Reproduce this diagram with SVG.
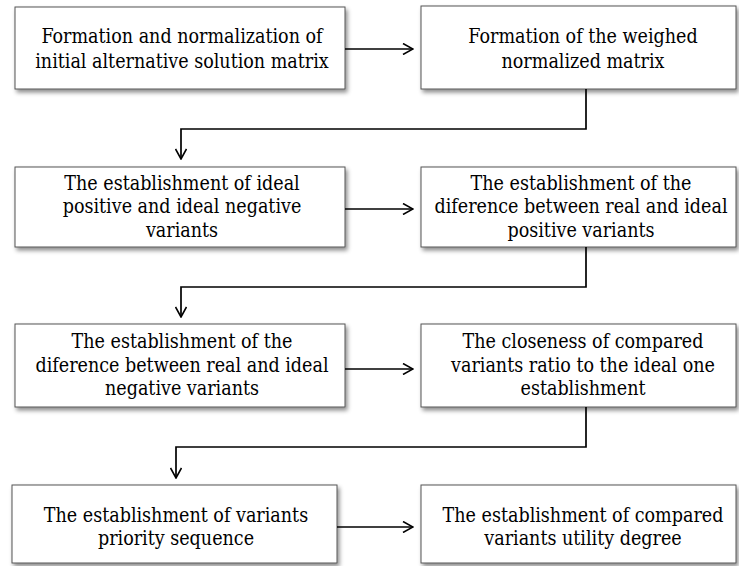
<svg xmlns="http://www.w3.org/2000/svg" width="739" height="566" viewBox="0 0 739 566">
<defs>
<filter id="sh" x="-5%" y="-10%" width="115%" height="130%">
<feDropShadow dx="2" dy="3" stdDeviation="2" flood-color="#000" flood-opacity="0.45"/>
</filter>
<marker id="arr" viewBox="0 0 12 12" refX="11" refY="6" markerWidth="12" markerHeight="12" markerUnits="userSpaceOnUse" orient="auto">
<path d="M1,0.5 L11,6 L1,11.5" fill="none" stroke="#000" stroke-width="1.6"/>
</marker>
</defs>
<style>
.box{fill:#fff;stroke:#555;stroke-width:1;filter:url(#sh)}
.t{font-family:"DejaVu Serif Condensed","DejaVu Serif","Liberation Serif",serif;font-stretch:condensed;font-size:19.5px;fill:#000;text-anchor:middle}
.c{fill:none;stroke:#000;stroke-width:1.7}
</style>
<rect width="739" height="566" fill="#fff"/>
<g id="n1"><rect class="box" x="15" y="7" width="330" height="82"/>
<text class="t" x="182" y="43">Formation and normalization of</text>
<text class="t" x="182" y="68">initial alternative solution matrix</text></g>
<g id="n2"><rect class="box" x="421" y="6" width="315" height="83"/>
<text class="t" x="583" y="43">Formation of the weighed</text>
<text class="t" x="583" y="68">normalized matrix</text></g>
<g id="n3"><rect class="box" x="15" y="167" width="330" height="80"/>
<text class="t" x="182" y="190">The establishment of ideal</text>
<text class="t" x="182" y="213">positive and ideal negative</text>
<text class="t" x="182" y="237">variants</text></g>
<g id="n4"><rect class="box" x="421" y="167" width="315" height="80"/>
<text class="t" x="581" y="190">The establishment of the</text>
<text class="t" x="581" y="213">diference between real and ideal</text>
<text class="t" x="581" y="237">positive variants</text></g>
<g id="n5"><rect class="box" x="15" y="324" width="330" height="83"/>
<text class="t" x="182" y="348">The establishment of the</text>
<text class="t" x="182" y="372">diference between real and ideal</text>
<text class="t" x="182" y="395">negative variants</text></g>
<g id="n6"><rect class="box" x="421" y="324" width="315" height="83"/>
<text class="t" x="583" y="348">The closeness of compared</text>
<text class="t" x="583" y="372">variants ratio to the ideal one</text>
<text class="t" x="583" y="395">establishment</text></g>
<g id="n7"><rect class="box" x="12" y="485" width="325" height="78"/>
<text class="t" x="176" y="522">The establishment of variants</text>
<text class="t" x="176" y="545">priority sequence</text></g>
<g id="n8"><rect class="box" x="421" y="485" width="315" height="78"/>
<text class="t" x="583" y="522">The establishment of compared</text>
<text class="t" x="583" y="545">variants utility degree</text></g>
<g id="connectors">
<path class="c" d="M345,49 H413" marker-end="url(#arr)"/>
<path class="c" d="M586,89 V129 H181 V159" marker-end="url(#arr)"/>
<path class="c" d="M345,209 H413" marker-end="url(#arr)"/>
<path class="c" d="M586,247 V287 H181 V317" marker-end="url(#arr)"/>
<path class="c" d="M345,369 H413" marker-end="url(#arr)"/>
<path class="c" d="M586,407 V447 H176 V478" marker-end="url(#arr)"/>
<path class="c" d="M337,527 H413" marker-end="url(#arr)"/>
</g>
</svg>
